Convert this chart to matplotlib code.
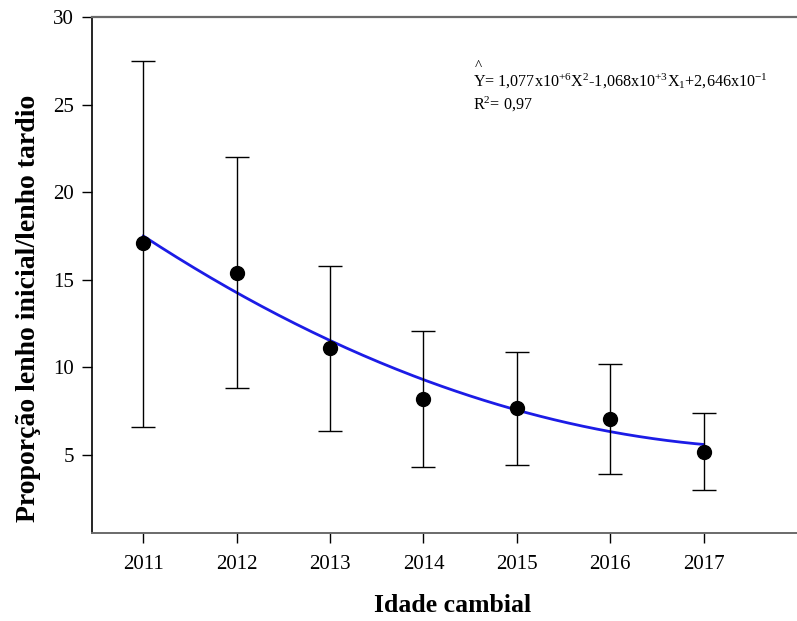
import numpy as np
import matplotlib
matplotlib.use("Agg")
import matplotlib.pyplot as plt

plt.rcParams['font.family'] = ['Liberation Serif', 'DejaVu Serif']
plt.rcParams['mathtext.fontset'] = 'custom'
plt.rcParams['mathtext.rm'] = 'Liberation Serif'
plt.rcParams['mathtext.it'] = 'Liberation Serif:italic'
plt.rcParams['mathtext.bf'] = 'Liberation Serif:bold'

years = [2011, 2012, 2013, 2014, 2015, 2016, 2017]
means = [17.1, 15.4, 11.1, 8.2, 7.7, 7.05, 5.2]
upper = [27.5, 22.0, 15.8, 12.1, 10.9, 10.2, 7.4]
lower = [6.6, 8.8, 6.35, 4.3, 4.45, 3.9, 3.0]
# fitted curve (quadratic in years since 2011)
fit_coef = [0.25, -3.483, 17.5]
yticks = [5, 10, 15, 20, 25, 30]

fig = plt.figure(figsize=(7.97, 6.21), dpi=100)
ax = fig.add_axes([0.1154, 0.1417, 0.8846, 0.831])

yerr = [np.array(means) - np.array(lower), np.array(upper) - np.array(means)]
t = np.linspace(0, 6, 200)
ax.plot(2011 + t, np.polyval(fit_coef, t), color='#1c1ce6', lw=2, zorder=2)
ax.errorbar(years, means, yerr=yerr, fmt='o', color='black', ms=10,
            ecolor='black', elinewidth=1, capsize=8.3, capthick=1, zorder=3)

ax.set_xlim(2010.45, 2018.0)
ax.set_ylim(0.55, 30)
ax.set_xticks(years)
ax.set_yticks(yticks)
ax.tick_params(axis='y', direction='out', length=7, width=1, labelsize=15, pad=6)
ax.tick_params(axis='x', direction='out', length=7, width=1, labelsize=15, pad=9)
ax.spines['right'].set_visible(False)
ax.spines['top'].set_color('#6a6a6a')
ax.spines['top'].set_linewidth(1.6)
ax.spines['bottom'].set_color('#6a6a6a')
ax.spines['bottom'].set_linewidth(1.4)
ax.spines['left'].set_linewidth(1.2)

ax.set_xlabel('Idade cambial', fontsize=18.5, fontweight='bold')
ax.set_ylabel('Proporção lenho inicial/lenho tardio', fontsize=20,
              fontweight='bold')
ax.xaxis.set_label_coords(0.511, -0.119)
ax.yaxis.set_label_coords(-0.073, 0.436)

ax.text(0.5475, 0.892, '^', transform=ax.transAxes, fontsize=11,
        ha='center', va='bottom')
ax.text(0.540, 0.875,
        r"Y= 1,077x10$^{+6}$X$^{2}$-1,068x10$^{+3}$X$_{1}$+2,646x10$^{-1}$",
        transform=ax.transAxes, fontsize=11.6, va='center')
ax.text(0.540, 0.830, r"R$^{2}$= 0,97", transform=ax.transAxes, fontsize=11.6,
        va='center')

fig.savefig('out.png', dpi=100)
